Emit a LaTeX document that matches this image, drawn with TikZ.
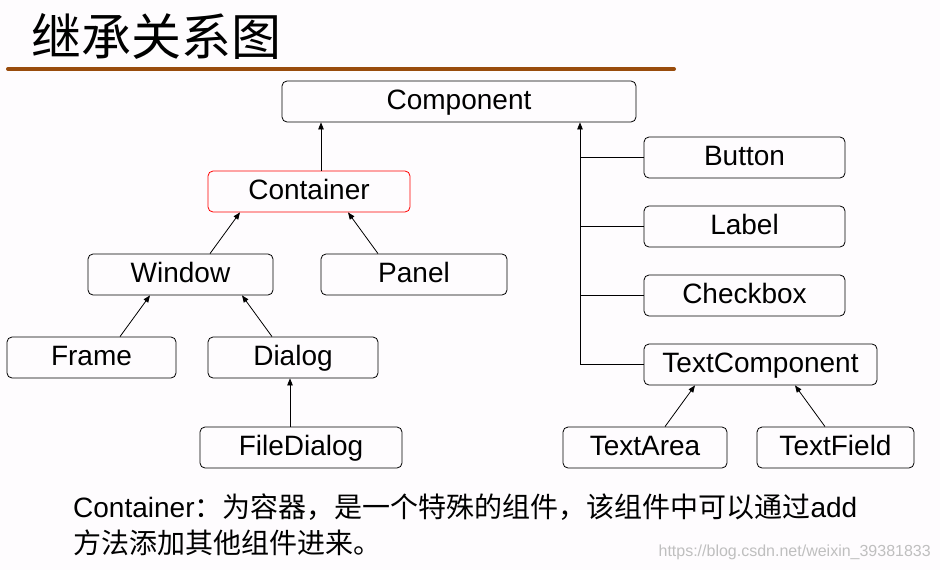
\documentclass[tikz,border=0pt]{standalone}
\usepackage{fontspec}
\usepackage{tikz}
\usetikzlibrary{arrows.meta}
\newfontfamily\boxfont{Liberation Sans}
\newfontfamily\cjk{Noto Sans CJK SC}
\definecolor{titlebar}{RGB}{153,76,12}
\definecolor{bgpage}{RGB}{254,252,254}

\begin{document}
\begin{tikzpicture}[x=1pt,y=-1pt,
	cls/.style={draw, rounded corners=5pt, line width=0.8pt, inner sep=0pt,
		minimum height=41pt, text height=20pt, text depth=5pt,
		font=\boxfont\fontsize{28}{32}\selectfont},
	inh/.style={-{Triangle[length=7pt,width=5.5pt]}, line width=0.8pt}]

	\fill[bgpage] (0,0) rectangle (940,570);
	\useasboundingbox (0,0) rectangle (940,570);

	% title
	\node[anchor=west, inner sep=0pt, font=\cjk\fontsize{50}{54}\selectfont] (title) at (31,36) {继承关系图};
	\draw[titlebar, line width=4pt, line cap=round] (8,69) -- (674,69);

	% classes
	\node[cls, minimum width=354pt] (component) at (459,101.5) {Component};
	\node[cls, draw=red, minimum width=202pt] (container) at (309,191.5) {Container};
	\node[cls, minimum width=185pt] (window) at (180.5,274.5) {Window};
	\node[cls, minimum width=186pt] (panel) at (414,274.5) {Panel};
	\node[cls, minimum width=169pt] (frame) at (91.5,357.5) {Frame};
	\node[cls, minimum width=170pt] (dialog) at (293,357.5) {Dialog};
	\node[cls, minimum width=202pt] (filedialog) at (301,447.5) {FileDialog};
	\node[cls, minimum width=201pt] (button) at (744.5,157.5) {Button};
	\node[cls, minimum width=201pt] (label) at (744.5,226.5) {Label};
	\node[cls, minimum width=201pt] (checkbox) at (744.5,295.5) {Checkbox};
	\node[cls, minimum width=233pt] (textcomp) at (760.5,364.5) {TextComponent};
	\node[cls, minimum width=164pt] (textarea) at (645,447.5) {TextArea};
	\node[cls, minimum width=157pt] (textfield) at (835.5,447.5) {TextField};

	% inheritance
	\draw[inh] (container.north -| 321,0) -- (component.south -| 321,0);
	\draw[inh] (window.north -| 210,0) -- (container.south -| 240,0);
	\draw[inh] (panel.north -| 378,0) -- (container.south -| 348,0);
	\draw[inh] (frame.north -| 120,0) -- (window.south -| 150,0);
	\draw[inh] (dialog.north -| 272,0) -- (window.south -| 242,0);
	\draw[inh] (filedialog.north -| 290,0) -- (dialog.south -| 290,0);
	\draw[inh] (textarea.north -| 665,0) -- (textcomp.south -| 695,0);
	\draw[inh] (textfield.north -| 825,0) -- (textcomp.south -| 795,0);

	\coordinate (trunk) at (580,364.5);
	\draw[inh] (trunk) -- (component.south -| trunk);
	\draw[line width=0.8pt] (button.west) -- (button.west -| trunk);
	\draw[line width=0.8pt] (label.west) -- (label.west -| trunk);
	\draw[line width=0.8pt] (checkbox.west) -- (checkbox.west -| trunk);
	\draw[line width=0.8pt] (textcomp.west) -- (trunk);

	% note
	\node[anchor=west, inner sep=0pt, font=\fontsize{28}{32}\selectfont] (note1) at (73,507)
		{{\boxfont Container}{\cjk ：为容器，是一个特殊的组件，该组件中可以通过}{\boxfont add}};
	\node[anchor=west, inner sep=0pt, font=\cjk\fontsize{28}{32}\selectfont] (note2) at (73,543)
		{方法添加其他组件进来。};
	\node[anchor=east, inner sep=0pt, text=black!25, font=\boxfont\fontsize{16}{18}\selectfont] (mark) at (931,552)
		{https://blog.csdn.net/weixin\_39381833};

\end{tikzpicture}
\end{document}
